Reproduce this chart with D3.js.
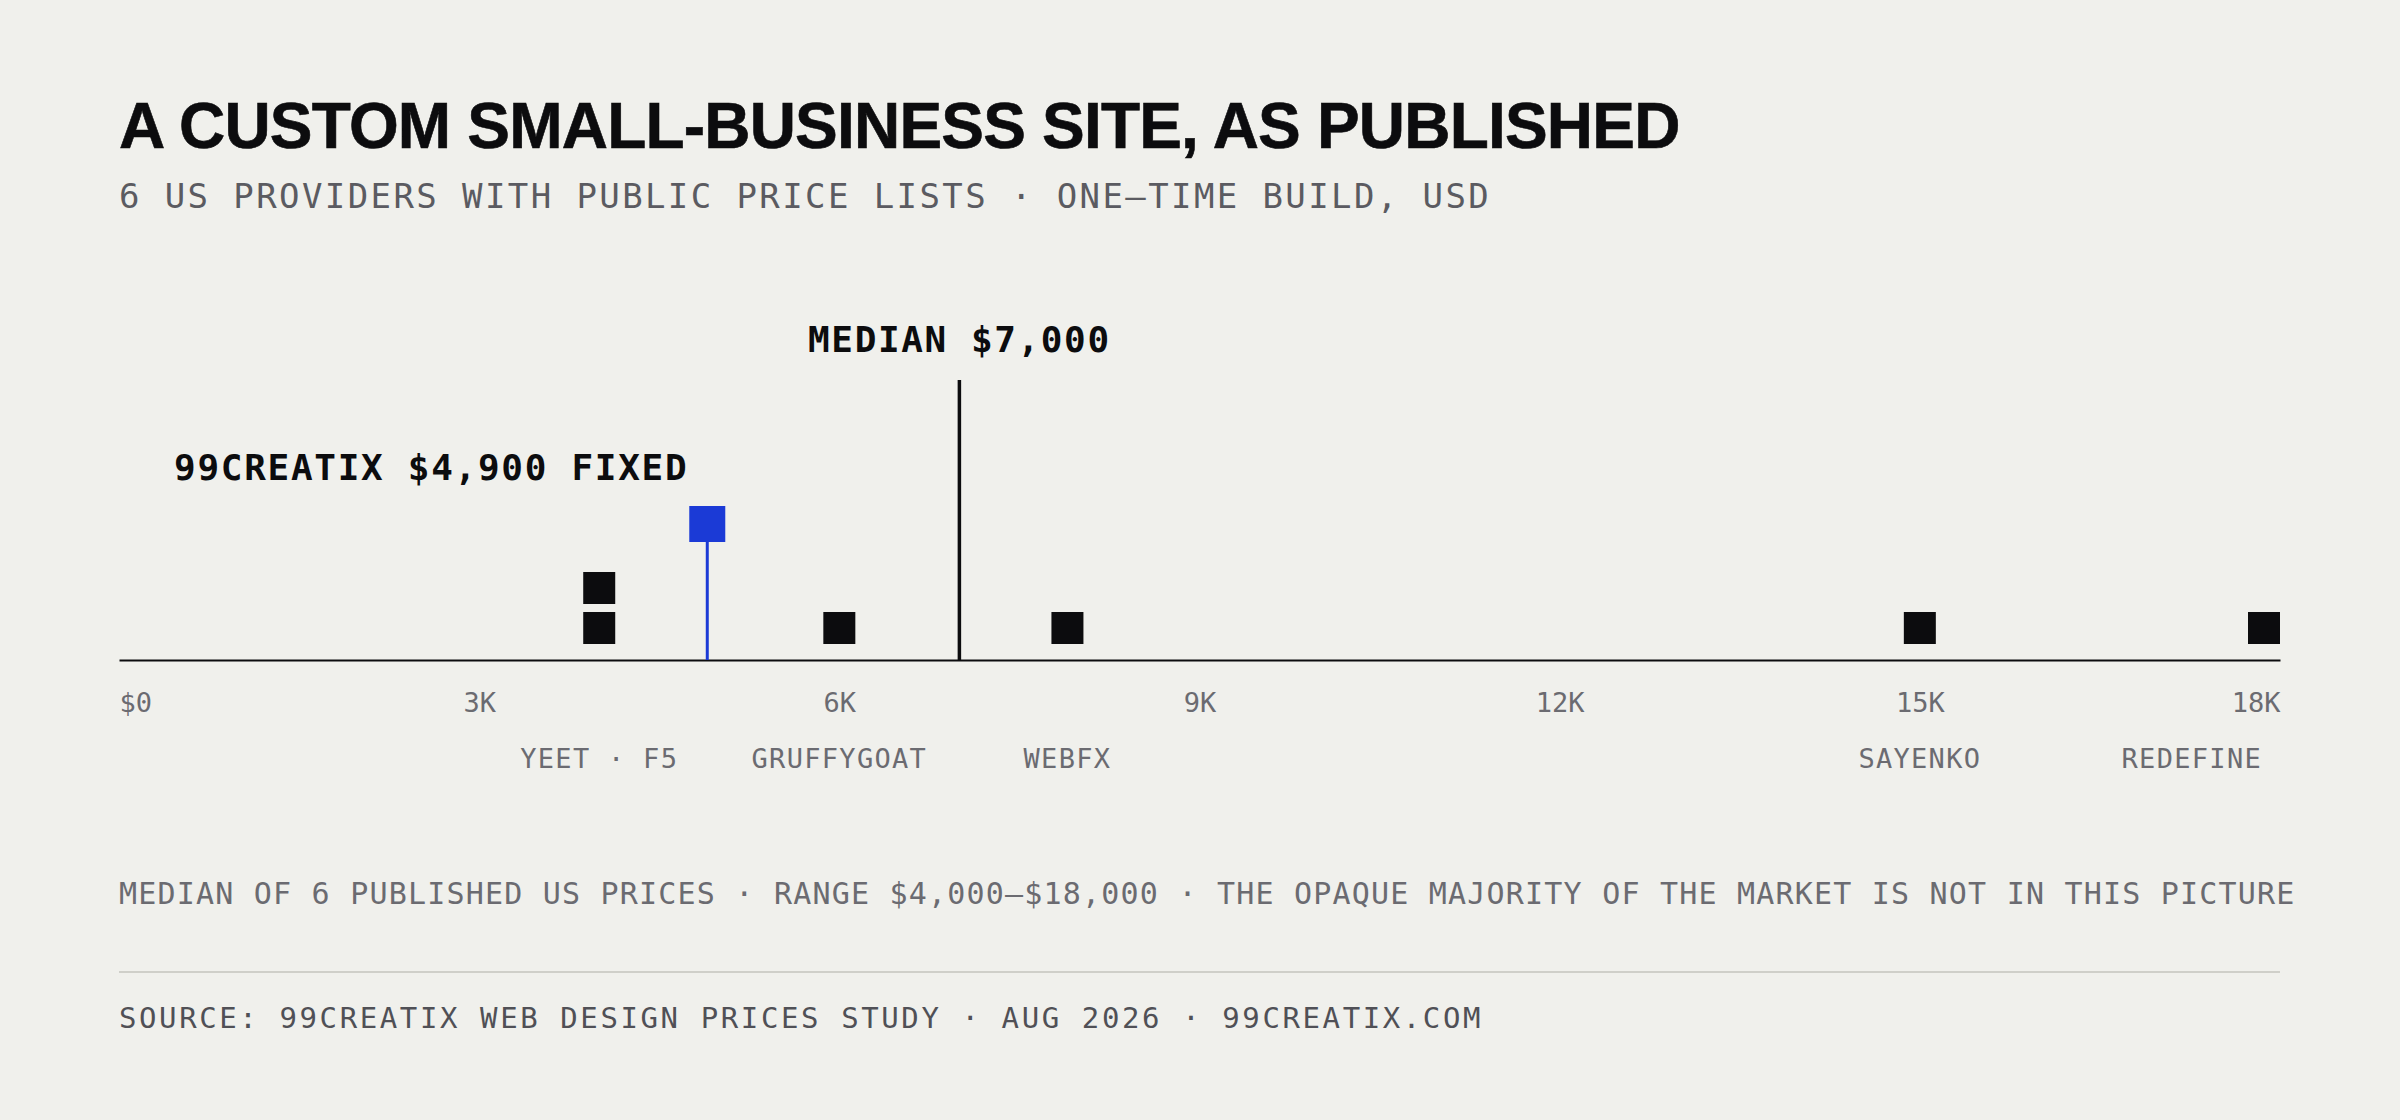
<!DOCTYPE html>
<html>
<head>
<meta charset="utf-8">
<script src="https://cdn.jsdelivr.net/npm/d3@7"></script>
<style>
  html, body { margin: 0; padding: 0; background: #f0f0ec; }
  svg { display: block; }
  .mono { font-family: "DejaVu Sans Mono", monospace; }
</style>
</head>
<body>
<script>
// providers with a published one-time build price (USD)
var providers = ["YEET", "F5", "GRUFFYGOAT", "WEBFX", "SAYENKO", "REDEFINE"];
var prices = [4000, 4000, 6000, 7900, 15000, 18000];

var tickValues = [0, 3000, 6000, 9000, 12000, 15000, 18000];
var tickLabels = ["$0", "3K", "6K", "9K", "12K", "15K", "18K"];

var ownName = "99CREATIX";
var ownPrice = 4900;
var medianPrice = 7000;

var title = "A CUSTOM SMALL-BUSINESS SITE, AS PUBLISHED";
var subtitle = "6 US PROVIDERS WITH PUBLIC PRICE LISTS · ONE–TIME BUILD, USD";
var note = "MEDIAN OF 6 PUBLISHED US PRICES · RANGE $4,000–$18,000 · THE OPAQUE MAJORITY OF THE MARKET IS NOT IN THIS PICTURE";
var source = "SOURCE: 99CREATIX WEB DESIGN PRICES STUDY · AUG 2026 · 99CREATIX.COM";

var width = 2400, height = 1120;
var left = 119, right = 2280;
var axisY = 660;
var sq = 32, gap = 8;
var ink = "#0c0c0e", gray = "#6b6b71", blue = "#1b3ad6";

var svg = d3.select("body").append("svg")
  .attr("width", width).attr("height", height);

svg.append("rect").attr("width", width).attr("height", height).attr("fill", "#f0f0ec");

svg.append("text")
  .text(title)
  .attr("x", left).attr("y", 148)
  .style("font-family", "'Liberation Sans', Arial, sans-serif")
  .style("font-weight", "bold")
  .style("font-size", "64px")
  .style("letter-spacing", "-0.8px")
  .style("stroke", ink).style("stroke-width", "0.6px")
  .style("fill", ink);

svg.append("text")
  .attr("class", "mono")
  .text(subtitle)
  .attr("x", left).attr("y", 208)
  .style("font-size", "34px")
  .style("letter-spacing", "2.4px")
  .style("fill", "#5b5b61");

var x = d3.scaleLinear().domain([0, 18000]).range([left, right]);

// axis
var axis = d3.axisBottom(x)
  .tickValues(tickValues)
  .tickFormat(function(d, i) { return tickLabels[i]; })
  .tickSize(0)
  .tickSizeOuter(0);

var axisG = svg.append("g")
  .attr("transform", "translate(0," + axisY + ")")
  .call(axis);

axisG.select(".domain").attr("stroke", ink).attr("stroke-width", 2);
axisG.selectAll(".tick text")
  .attr("class", "mono")
  .attr("y", 52).attr("dy", 0)
  .style("font-size", "27px")
  .style("fill", gray)
  .attr("text-anchor", function(d, i) {
    if (i == 0) return "start";
    if (i == tickValues.length - 1) return "end";
    return "middle";
  });

// median line
svg.append("line")
  .attr("x1", x(medianPrice)).attr("x2", x(medianPrice))
  .attr("y1", 380).attr("y2", axisY)
  .attr("stroke", ink).attr("stroke-width", 3.5);

svg.append("text")
  .attr("class", "mono")
  .text("MEDIAN $" + d3.format(",")(medianPrice))
  .attr("x", x(medianPrice)).attr("y", 352)
  .attr("text-anchor", "middle")
  .style("font-size", "36px")
  .style("font-weight", "bold")
  .style("letter-spacing", "1.6px")
  .style("fill", ink);

// stack providers that share a price
var counts = {};
var dots = [];
for (var i = 0; i < providers.length; i++) {
  var p = prices[i];
  counts[p] = (counts[p] || 0);
  dots.push({name: providers[i], price: p, level: counts[p]});
  counts[p]++;
}

function cx(v) { return Math.min(x(v), right - sq / 2); }

svg.append("g").selectAll("rect").data(dots).enter().append("rect")
  .attr("x", function(d) { return cx(d.price) - sq / 2; })
  .attr("y", function(d) { return axisY - 16 - sq - d.level * (sq + gap); })
  .attr("width", sq).attr("height", sq)
  .attr("fill", ink);

// provider names under the axis, joined where they share a price
var groups = d3.groups(dots, function(d) { return d.price; });

svg.append("g").selectAll("text").data(groups).enter().append("text")
  .attr("class", "mono")
  .text(function(d) { return d[1].map(function(e) { return e.name; }).join(" · "); })
  .attr("x", function(d) { return cx(d[0]); })
  .attr("y", 768)
  .attr("text-anchor", function(d) { return x(d[0]) + 80 > right ? "end" : "middle"; })
  .attr("dx", function(d) { return x(d[0]) + 80 > right ? -2 : 0; })
  .style("font-size", "27px")
  .style("letter-spacing", "1.3px")
  .style("fill", gray);

// own price marker
var big = 36;
svg.append("line")
  .attr("x1", x(ownPrice)).attr("x2", x(ownPrice))
  .attr("y1", 506 + big).attr("y2", axisY)
  .attr("stroke", blue).attr("stroke-width", 3);

svg.append("rect")
  .attr("x", x(ownPrice) - big / 2).attr("y", 506)
  .attr("width", big).attr("height", big)
  .attr("fill", blue);

svg.append("text")
  .attr("class", "mono")
  .text(ownName + " $" + d3.format(",")(ownPrice) + " FIXED")
  .attr("x", x(ownPrice) - big / 2 - 1).attr("y", 480)
  .attr("text-anchor", "end")
  .style("font-size", "36px")
  .style("font-weight", "bold")
  .style("letter-spacing", "1.7px")
  .style("fill", ink);

// footer
svg.append("text")
  .attr("class", "mono")
  .text(note)
  .attr("x", left).attr("y", 904)
  .style("font-size", "30px")
  .style("letter-spacing", "1.2px")
  .style("fill", gray);

svg.append("line")
  .attr("x1", left).attr("x2", right)
  .attr("y1", 972).attr("y2", 972)
  .attr("stroke", "#cfcfc9").attr("stroke-width", 2);

svg.append("text")
  .attr("class", "mono")
  .text(source)
  .attr("x", left).attr("y", 1028)
  .style("font-size", "29px")
  .style("letter-spacing", "2.6px")
  .style("fill", "#505056");
</script>
</body>
</html>
